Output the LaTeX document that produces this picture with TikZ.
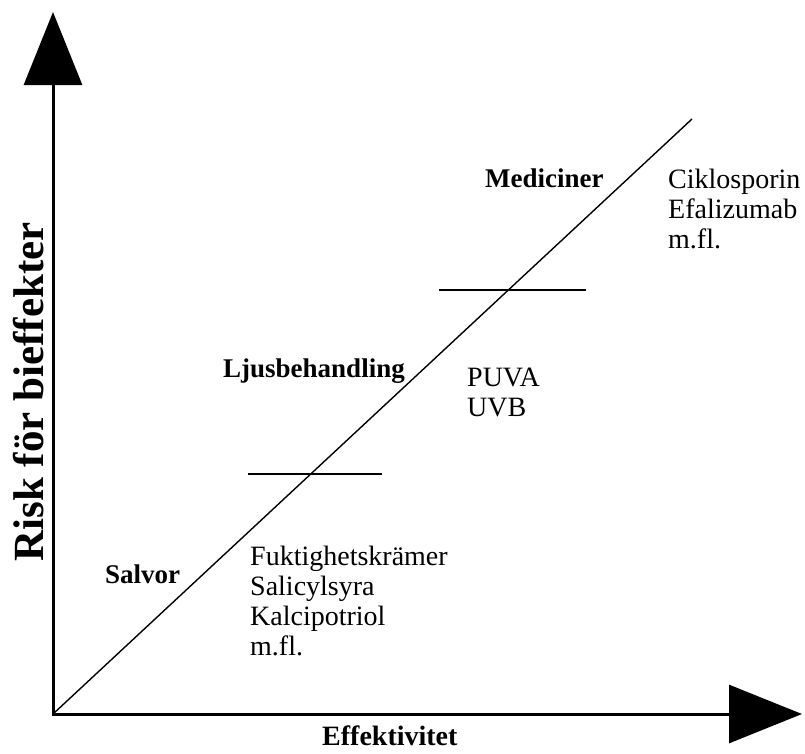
\documentclass[tikz,border=0pt]{standalone}
\usepackage{fontspec}
\setmainfont{Liberation Serif}
\usetikzlibrary{arrows.meta}

\begin{document}
\begin{tikzpicture}[
  x=1pt,
  y=-1pt,
  bigtip/.tip={Triangle[length=73pt,width=58pt]},
  axis/.style={line width=3pt,line join=miter,bigtip-bigtip},
  groupname/.style={anchor=base west,inner sep=0pt,
    font=\fontsize{27}{30}\selectfont\bfseries},
  itemlist/.style={anchor=base west,inner sep=0pt,align=left,
    font=\fontsize{28}{30}\selectfont}
]
  \useasboundingbox (0,0) rectangle (805,753);

  % Axes.
  \coordinate (origin) at (53,714);
  \coordinate (ytip) at (53,12);
  \coordinate (xtip) at (802,714);
  \draw[axis] (ytip) -- (origin) -- (xtip);
  \node[anchor=base west,inner sep=0pt,
    font=\fontsize{28}{30}\selectfont\bfseries] (xlabel) at (322,745)
    {Effektivitet};
  \node[anchor=base,rotate=90,inner sep=0pt,
    font=\fontsize{43}{45}\selectfont\bfseries] (ylabel) at (43,392)
    {Risk för bieffekter};

  % Diagonal and level marks.
  \coordinate (diagtop) at (692,119);
  \draw[line width=1.4pt] (origin) -- (diagtop);
  \coordinate (lowleft) at (248,474);
  \coordinate (lowright) at (382,474);
  \coordinate (highleft) at (439,290);
  \coordinate (highright) at (586,290);
  \draw[line width=2pt] (lowleft) -- (lowright);
  \draw[line width=2pt] (highleft) -- (highright);

  % Treatment groups (lists are placed by their last baseline).
  \node[groupname] (salvor) at (105,583) {Salvor};
  \node[itemlist] (salvorlist) at (250,655)
    {Fuktighetskrämer\\Salicylsyra\\Kalcipotriol\\m.fl.};
  \node[groupname] (ljus) at (223,377) {Ljusbehandling};
  \node[itemlist] (ljuslist) at (467,416) {PUVA\\UVB};
  \node[groupname] (medic) at (485,187) {Mediciner};
  \node[itemlist] (mediclist) at (668,248)
    {Ciklosporin\\Efalizumab\\m.fl.};
\end{tikzpicture}
\end{document}
